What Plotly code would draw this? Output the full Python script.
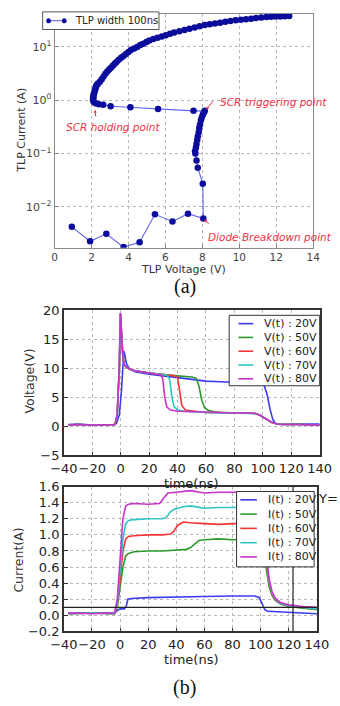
import math
import plotly.graph_objects as go

W, H = 340, 706

# ---------------- (a) TLP I-V data ----------------
tlp_v = [0.93, 1.92, 2.8, 3.73, 4.6, 5.43, 6.38, 7.22, 8.05, 8.02, 7.75, 7.68,
         7.62, 7.6, 7.65, 7.68, 7.72, 7.75, 7.8, 7.83, 7.87, 7.92, 7.97, 8.03, 8.08, 8.13,
         7.52, 5.6, 4.1, 3.03, 2.63, 2.4, 2.25, 2.15, 2.1, 2.08, 2.08, 2.1, 2.1, 2.12,
         2.15, 2.17, 2.2, 2.22, 2.25, 2.3,
         2.35, 2.45, 2.55, 2.65, 2.75, 2.85, 2.95, 3.05, 3.15, 3.25, 3.35, 3.47, 3.6,
         3.73, 3.86, 4.0, 4.13, 4.3, 4.47, 4.64, 4.8, 4.97, 5.13, 5.35, 5.57, 5.8,
         6.02, 6.25, 6.47, 6.75, 7.03, 7.3, 7.58, 7.85, 8.13, 8.4, 8.68, 8.96, 9.24,
         9.52, 9.8, 10.08, 10.36, 10.64, 10.91, 11.19, 11.47, 11.72, 11.97, 12.22,
         12.47, 12.7]
tlp_i = [4.2e-3, 2.25e-3, 3.1e-3, 1.75e-3, 2.15e-3, 7.2e-3, 5.3e-3, 7.4e-3, 6.0e-3,
         2.7e-2, 5.4e-2, 7.4e-2,
         0.1, 0.11, 0.13, 0.15, 0.18, 0.21, 0.25, 0.3, 0.35, 0.42, 0.48, 0.54, 0.59, 0.63,
         0.63, 0.68, 0.74, 0.77, 0.82, 0.84, 0.87, 0.9, 0.95, 1.0, 1.07, 1.15, 1.22, 1.3,
         1.4, 1.5, 1.6, 1.72, 1.85, 1.97,
         2.05, 2.21, 2.48, 2.79, 3.13, 3.45, 3.75, 4.07, 4.42, 4.8, 5.21, 5.75, 6.24,
         6.76, 7.36, 8.03, 8.71, 9.33, 10.0, 10.8, 11.5, 12.3, 13.2, 14.0, 14.8, 15.7,
         16.6, 17.6, 18.6, 19.7, 20.8, 21.9, 23.1, 24.3, 25.7, 26.6, 27.5, 28.5, 29.5,
         30.5, 31.6, 32.4, 33.1, 33.9, 34.7, 35.5, 36.3, 36.6, 37.0, 37.3, 37.7, 38.0]
tlp_label = "TLP width 100ns"
tlp_xticks = [0, 2, 4, 6, 8, 10, 12, 14]
tlp_yticks = [0.01, 0.1, 1, 10]
tlp_yticktext = ["10<sup>−2</sup>", "10<sup>−1</sup>", "10<sup>0</sup>", "10<sup>1</sup>"]

# ---------------- (b) V(t) data ----------------
v_labels = ["V(t) : 20V", "V(t) : 50V", "V(t) : 60V", "V(t) : 70V", "V(t) : 80V"]
t_v20 = [-37, -30, -20, -10, -5, -3, -1, 0.5, 1.5, 2.2, 3, 4, 6, 10, 20, 30, 40, 50,
         60, 70, 80, 90, 98, 101, 103, 105, 107, 109, 112, 120, 130, 140]
v_v20 = [0.3, 0.4, 0.2, 0.3, 0.3, 0.5, 2.0, 6.0, 11.0, 13.0, 12.2, 10.8, 10.0, 9.4,
         9.0, 8.7, 8.4, 8.1, 7.8, 7.7, 7.6, 7.5, 7.4, 7.0, 5.5, 3.0, 1.2, 0.5, 0.3,
         0.4, 0.4, 0.4]
t_v50 = [-37, -30, -20, -10, -4, -2.5, -1, -0.2, 0.5, 1.5, 2.5, 4, 6, 10, 20, 30, 40,
         50, 53, 55, 57, 59, 62, 66, 70, 80, 90, 95, 98, 102, 106, 110, 115, 125, 140]
v_v50 = [0.2, 0.3, 0.2, 0.3, 0.3, 2.0, 10.0, 19.5, 16.0, 12.0, 10.6, 10.2, 9.9, 9.6,
         9.2, 8.9, 8.7, 8.5, 8.3, 7.0, 4.5, 3.2, 2.7, 2.5, 2.4, 2.3, 2.3, 2.2, 1.9,
         1.3, 0.7, 0.4, 0.3, 0.3, 0.2]
t_v60 = [-37, -30, -20, -10, -4, -2.5, -1, -0.2, 0.5, 1.5, 2.5, 4, 6, 10, 20, 30, 38,
         40, 41.5, 43, 45.5, 50, 55, 60, 70, 80, 90, 95, 98, 102, 106, 110, 115, 125, 140]
v_v60 = [0.2, 0.3, 0.2, 0.3, 0.3, 2.0, 10.0, 19.5, 16.0, 12.0, 10.6, 10.2, 9.9, 9.6,
         9.2, 8.9, 8.7, 8.5, 6.0, 3.6, 2.8, 2.6, 2.5, 2.4, 2.3, 2.3, 2.3, 2.2, 1.9,
         1.3, 0.7, 0.4, 0.3, 0.3, 0.2]
t_v70 = [-37, -30, -20, -10, -4, -2.5, -1, -0.2, 0.5, 1.5, 2.5, 4, 6, 10, 20, 30, 33,
         34.5, 36, 37.5, 40, 45, 50, 60, 70, 80, 90, 95, 98, 102, 106, 110, 115, 125, 140]
v_v70 = [0.2, 0.3, 0.2, 0.3, 0.3, 2.0, 10.0, 19.5, 16.0, 12.0, 10.6, 10.2, 9.9, 9.6,
         9.2, 8.9, 8.8, 8.0, 5.0, 3.4, 2.8, 2.6, 2.5, 2.4, 2.3, 2.3, 2.3, 2.2, 1.9,
         1.3, 0.7, 0.4, 0.3, 0.3, 0.2]
t_v80 = [-37, -30, -20, -10, -4, -2.5, -1, -0.2, 0.5, 1.5, 2.5, 4, 6, 10, 20, 28,
         29.5, 31, 32.5, 35, 40, 50, 60, 70, 80, 90, 95, 98, 102, 106, 110, 115, 125, 140]
v_v80 = [0.2, 0.3, 0.2, 0.3, 0.3, 2.0, 10.0, 19.5, 16.0, 12.0, 10.6, 10.2, 9.9, 9.6,
         9.2, 8.9, 8.3, 5.0, 3.3, 2.8, 2.6, 2.5, 2.4, 2.3, 2.3, 2.3, 2.2, 1.9, 1.3,
         0.7, 0.4, 0.3, 0.3, 0.2]

# ---------------- (b) I(t) data ----------------
i_labels = ["I(t) : 20V", "I(t) : 50V", "I(t) : 60V", "I(t) : 70V", "I(t) : 80V"]
t_i20 = [-37, -20, -4, -2, 0, 3, 4.5, 5.5, 8, 20, 40, 60, 80, 96, 99, 101, 103, 105,
         110, 120, 130, 140]
i_i20 = [0.03, 0.03, 0.03, 0.06, 0.08, 0.08, 0.12, 0.2, 0.21, 0.22, 0.23, 0.235,
         0.24, 0.24, 0.22, 0.15, 0.07, 0.05, 0.045, 0.035, 0.03, 0.02]
t_i50 = [-37, -20, -4, -2, 0, 2, 4, 6, 10, 20, 30, 40, 47, 50, 53, 56, 60, 70, 80,
         90, 100, 102, 104, 106, 108, 110, 114, 120, 130, 140]
i_i50 = [0.02, 0.03, 0.02, 0.1, 0.35, 0.6, 0.74, 0.77, 0.79, 0.8, 0.8, 0.81, 0.82,
         0.84, 0.88, 0.93, 0.94, 0.95, 0.94, 0.94, 0.94, 0.8, 0.55, 0.35, 0.25, 0.19,
         0.14, 0.11, 0.09, 0.07]
t_i60 = [-37, -20, -4, -2, 0, 2, 4, 6, 10, 20, 30, 36, 38, 41, 45, 50, 60, 70, 80,
         90, 100, 102, 104, 106, 108, 110, 114, 120, 130, 140]
i_i60 = [0.02, 0.03, 0.02, 0.12, 0.45, 0.8, 0.95, 0.98, 0.99, 1.0, 1.0, 1.01, 1.04,
         1.12, 1.16, 1.15, 1.14, 1.13, 1.14, 1.14, 1.14, 0.95, 0.65, 0.4, 0.27, 0.2,
         0.15, 0.12, 0.1, 0.08]
t_i70 = [-37, -20, -4, -2, 0, 2, 4, 6, 10, 20, 30, 33, 35.5, 38.5, 45, 50, 60, 70,
         80, 90, 100, 102, 104, 106, 108, 110, 114, 120, 130, 140]
i_i70 = [0.02, 0.03, 0.02, 0.15, 0.55, 0.95, 1.14, 1.18, 1.19, 1.2, 1.2, 1.22, 1.28,
         1.32, 1.35, 1.36, 1.33, 1.34, 1.34, 1.34, 1.34, 1.1, 0.7, 0.42, 0.28, 0.21,
         0.15, 0.12, 0.1, 0.08]
t_i80 = [-37, -20, -4, -2, 0, 2, 4, 6, 10, 20, 28, 31, 34, 40, 50, 60, 70, 80, 90,
         100, 102, 104, 106, 108, 110, 114, 120, 130, 140]
i_i80 = [0.03, 0.02, 0.03, 0.2, 0.7, 1.2, 1.36, 1.38, 1.39, 1.38, 1.39, 1.45, 1.52,
         1.53, 1.55, 1.52, 1.53, 1.53, 1.53, 1.53, 1.2, 0.75, 0.45, 0.3, 0.22, 0.16,
         0.13, 0.11, 0.1]
cursor_t = 123
cursor_i = 0.1

t_ticks = [-40, -20, 0, 20, 40, 60, 80, 100, 120, 140]
t_ticktext = ["−40", "−20", "0", "20", "40", "60", "80", "100", "120", "140"]
v_ticks = [-5, 0, 5, 10, 15, 20]
v_ticktext = ["−5", "0", "5", "10", "15", "20"]
i_ticks = [-0.2, 0.0, 0.2, 0.4, 0.6, 0.8, 1.0, 1.2, 1.4, 1.6]
i_ticktext = ["−0.2", "0.0", "0.2", "0.4", "0.6", "0.8", "1.0", "1.2", "1.4", "1.6"]

colors = ["#3b3bf0", "#2e9a2e", "#f53535", "#2ec4c4", "#c832c8"]
FONT = "DejaVu Sans"
LINE_C = "rgba(70,70,235,0.85)"
MARK_C = "#0c0c9c"


def px(x):
    return x / W


def py(y):
    return 1 - y / H


fig = go.Figure()

fig.add_trace(go.Scatter(
    x=tlp_v, y=tlp_i, mode="lines+markers", name=tlp_label, showlegend=False,
    line=dict(color=LINE_C, width=1.1),
    marker=dict(color=MARK_C, size=6.5, line=dict(width=0)),
    xaxis="x", yaxis="y"))

for t, v, lab, c in zip([t_v20, t_v50, t_v60, t_v70, t_v80],
                        [v_v20, v_v50, v_v60, v_v70, v_v80], v_labels, colors):
    fig.add_trace(go.Scatter(x=t, y=v, mode="lines", name=lab, showlegend=False,
                             line=dict(color=c, width=1.6),
                             xaxis="x2", yaxis="y2"))

for t, v, lab, c in zip([t_i20, t_i50, t_i60, t_i70, t_i80],
                        [i_i20, i_i50, i_i60, i_i70, i_i80], i_labels, colors):
    fig.add_trace(go.Scatter(x=t, y=v, mode="lines", name=lab, showlegend=False,
                             line=dict(color=c, width=1.6),
                             xaxis="x3", yaxis="y3"))

grid = dict(showgrid=True, gridcolor="#b8b8b8", gridwidth=1, griddash="dot",
            zeroline=False, showline=True, mirror=True, ticks="inside", ticklen=4,
            tickangle=0)

fig.update_layout(
    width=W, height=H, margin=dict(l=0, r=0, t=0, b=0),
    paper_bgcolor="white", plot_bgcolor="white",
    font=dict(family=FONT, color="#333"),
    showlegend=False,
    xaxis=dict(domain=[px(44), px(324)], range=[0, 14], tickvals=tlp_xticks,
               linecolor="#8a8a8a", linewidth=1, tickcolor="#8a8a8a",
               tickfont=dict(size=10.5, color="#444"), anchor="y", **grid),
    yaxis=dict(domain=[py(246), py(7)], type="log", range=[-2.77, 1.62],
               tickvals=tlp_yticks, ticktext=tlp_yticktext,
               linecolor="#8a8a8a", linewidth=1, tickcolor="#8a8a8a",
               tickfont=dict(size=11, color="#444"), anchor="x", **grid),
    xaxis2=dict(domain=[px(54), px(331)], range=[-40, 140], tickvals=t_ticks,
                ticktext=t_ticktext,
                linecolor="#333", linewidth=1.5, tickcolor="#333",
                tickfont=dict(size=13, color="#222"), anchor="y2", **grid),
    yaxis2=dict(domain=[py(458), py(310)], range=[-5, 20], tickvals=v_ticks,
                ticktext=v_ticktext,
                linecolor="#333", linewidth=1.5, tickcolor="#333",
                tickfont=dict(size=13, color="#222"), anchor="x2", **grid),
    xaxis3=dict(domain=[px(54), px(328)], range=[-40, 140], tickvals=t_ticks,
                ticktext=t_ticktext,
                linecolor="#333", linewidth=1.5, tickcolor="#333",
                tickfont=dict(size=13, color="#222"), anchor="y3", **grid),
    yaxis3=dict(domain=[py(638), py(490)], range=[-0.2, 1.6], tickvals=i_ticks,
                ticktext=i_ticktext,
                linecolor="#333", linewidth=1.5, tickcolor="#333",
                tickfont=dict(size=13, color="#222"), anchor="x3", **grid),
)

# crosshair cursor lines in I(t) plot (drawn before legend box so the box hides them)
fig.add_shape(type="line", xref="x3", yref="y3", x0=-40, x1=140, y0=cursor_i, y1=cursor_i,
              line=dict(color="#222", width=1.2))
fig.add_shape(type="line", xref="x3", yref="y3", x0=cursor_t, x1=cursor_t, y0=-0.2, y1=1.6,
              line=dict(color="#222", width=1.2))


def ann(text, x, y, size, color="#333", angle=0, family=FONT, xanchor="center"):
    fig.add_annotation(text=text, x=px(x), y=py(y), xref="paper", yref="paper",
                       showarrow=False, textangle=angle, xanchor=xanchor, yanchor="middle",
                       font=dict(size=size, color=color, family=family))


def box(x0, y0, x1, y1, color):
    fig.add_shape(type="rect", xref="paper", yref="paper", x0=px(x0), x1=px(x1),
                  y0=py(y1), y1=py(y0), fillcolor="white",
                  line=dict(color=color, width=1), layer="above")


def seg(x0, x1, y, color, width):
    fig.add_shape(type="line", xref="paper", yref="paper", x0=px(x0), x1=px(x1),
                  y0=py(y), y1=py(y), line=dict(color=color, width=width), layer="above")


def dot(x, y, r, color):
    fig.add_shape(type="circle", xref="paper", yref="paper", x0=px(x - r), x1=px(x + r),
                  y0=py(y + r), y1=py(y - r), fillcolor=color, line=dict(width=0),
                  layer="above")


# legend (a)
box(31, 5, 157, 23, "#555")
seg(37, 55, 14, LINE_C, 1.1)
dot(37.5, 14, 2.6, MARK_C)
dot(54.5, 14, 2.6, MARK_C)
ann(tlp_label, 64, 14, 10, color="#222", xanchor="left")

# legend V(t)
box(233, 315, 331, 387, "#333")
for k, (lab, c) in enumerate(zip(v_labels, colors)):
    yy = 323.5 + 14.1 * k
    seg(243, 259, yy, c, 1.6)
    ann(lab, 268, yy, 11, color="#222", xanchor="left")

# legend I(t)
box(241, 495, 325, 572, "#333")
for k, (lab, c) in enumerate(zip(i_labels, colors)):
    yy = 503.5 + 14.6 * k
    seg(245, 263, yy, c, 1.6)
    ann(lab, 273, yy, 11, color="#222", xanchor="left")

RED = "#ee3344"
ann("TLP Voltage (V)", 183, 268, 11)
ann("TLP Current (A)", 8, 126, 11, angle=-90)
ann("(a)", 185, 286, 20, color="#111", family="Liberation Serif")
ann("Voltage(V)", 17, 382, 12.5, angle=-90)
ann("time(ns)", 192, 487, 13, color="#222")
ann("Current(A)", 5, 565, 12.5, angle=-90)
ann("time(ns)", 192, 667, 13, color="#222")
ann("(b)", 185, 695, 20, color="#111", family="Liberation Serif")
ann("Y=", 327, 502, 13, color="#222", xanchor="left")
ann("<i>SCR triggering point</i>", 221, 97, 10.5, color=RED, xanchor="left")
ann("<i>SCR holding point</i>", 54, 123, 10.5, color=RED, xanchor="left")
ann("<i>Diode Breakdown point</i>", 208, 235, 10.5, color=RED, xanchor="left")

for (hx, hy, ax, ay) in [(8.2, 0.66, 8, -10), (2.18, 0.66, 1, 8), (8.1, 5.8e-3, 6, 6)]:
    fig.add_annotation(x=hx, y=math.log10(hy), xref="x", yref="y",
                       text="", showarrow=True, ax=ax, ay=ay, arrowhead=2,
                       arrowsize=0.6, arrowwidth=1, arrowcolor=RED)

fig.write_html("out.html")
